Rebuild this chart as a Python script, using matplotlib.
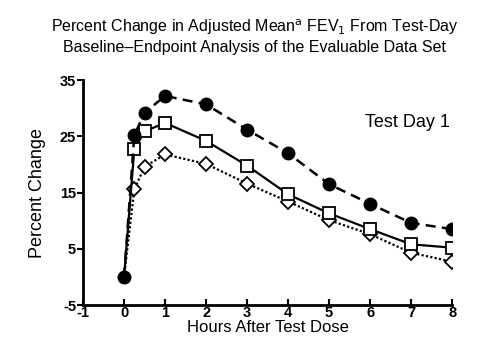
import matplotlib
matplotlib.use("Agg")
import matplotlib.pyplot as plt

hours = [0, 0.25, 0.5, 1, 2, 3, 4, 5, 6, 7, 8]
circles = [0, 25.2, 29.2, 32.2, 30.7, 26.2, 22.0, 16.5, 13.0, 9.6, 8.5]
squares = [0, 22.7, 25.9, 27.4, 24.2, 19.8, 14.7, 11.3, 8.5, 5.8, 5.2]
diamonds = [0, 15.6, 19.6, 21.8, 20.1, 16.6, 13.4, 10.1, 7.6, 4.3, 2.7]

x_ticks = [-1, 0, 1, 2, 3, 4, 5, 6, 7, 8]
y_ticks = [-5, 5, 15, 25, 35]

plt.rcParams["font.family"] = ["Liberation Sans", "DejaVu Sans"]
plt.rcParams["axes.unicode_minus"] = False

fig = plt.figure(figsize=(4.8, 3.58), dpi=100)
ax = fig.add_axes([0.173, 0.148, 0.769, 0.628])

# open markers skip the zero point, the filled circle sits there
ax.plot(hours, diamonds, linestyle=(0, (1, 1)), color="black", linewidth=1.6,
        marker="D", markersize=7.5, markerfacecolor="white", markeredgecolor="black",
        markeredgewidth=1.3, markevery=list(range(1, len(hours))), zorder=3)
ax.plot(hours, squares, linestyle="-", color="black", linewidth=1.6,
        marker="s", markersize=8, markerfacecolor="white", markeredgecolor="black",
        markeredgewidth=1.3, markevery=list(range(1, len(hours))), zorder=4)
ax.plot(hours, circles, linestyle=(0, (4, 2.5)), color="black", linewidth=1.8,
        marker="o", markersize=9, markerfacecolor="black", markeredgecolor="black",
        zorder=5)

ax.set_xlim(-1, 8)
ax.set_ylim(-5, 35)
ax.set_xticks(x_ticks)
ax.set_yticks(y_ticks)
for s in ["top", "right"]:
    ax.spines[s].set_visible(False)
for s in ["left", "bottom"]:
    ax.spines[s].set_linewidth(2)
ax.tick_params(axis="both", labelsize=10.5, width=1.5, length=4, pad=1)
ax.tick_params(axis="x", direction="in")
for lab in ax.get_xticklabels() + ax.get_yticklabels():
    lab.set_fontweight("bold")

ax.set_xlabel("Hours After Test Dose", fontsize=12, labelpad=0)
ax.set_ylabel("Percent Change", fontsize=13, labelpad=10)

ax.text(0.995, 0.81, "Test Day 1", transform=ax.transAxes, fontsize=13,
        ha="right", va="center")

fig.text(0.53, 0.925, "Percent Change in Adjusted Mean$^\\mathrm{a}$ FEV$_\\mathrm{1}$ From Test-Day",
         ha="center", va="center", fontsize=11.5)
fig.text(0.53, 0.868, "Baseline\u2013Endpoint Analysis of the Evaluable Data Set",
         ha="center", va="center", fontsize=11.5)

fig.savefig("out.png", dpi=100)
